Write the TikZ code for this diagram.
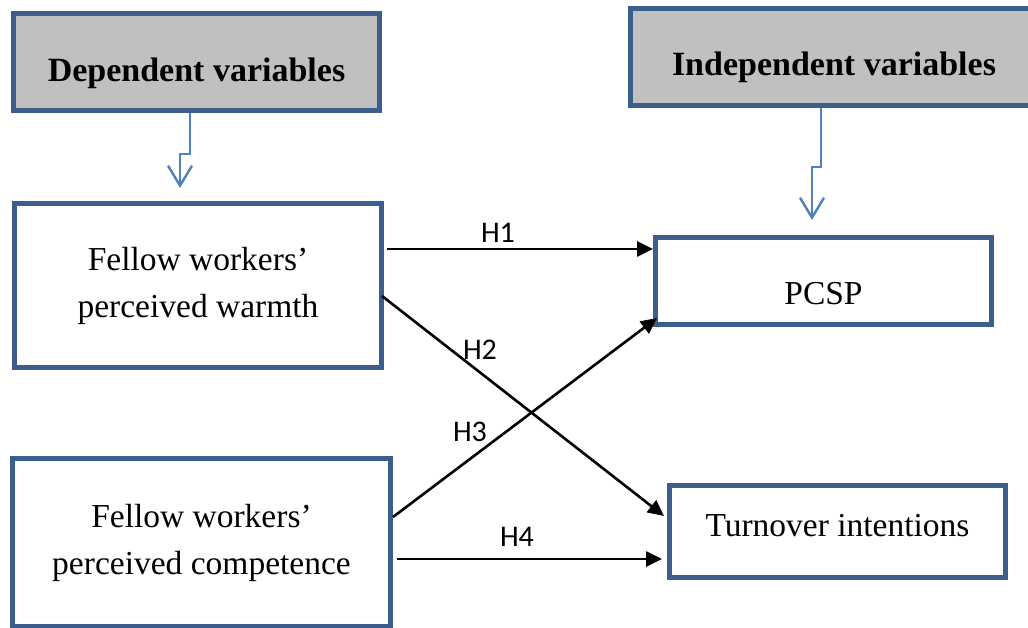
\documentclass[tikz,border=0pt]{standalone}
\usepackage{fontspec}
\setmainfont{Liberation Serif}
\newfontfamily\hypfont{Carlito}
\usetikzlibrary{arrows.meta}
\definecolor{boxblue}{HTML}{3B5E8C}
\definecolor{feedblue}{HTML}{4F81BD}
\definecolor{headgray}{HTML}{C0C0C0}

\begin{document}
\begin{tikzpicture}[x=1pt,y=-1pt,
	varbox/.style={draw=boxblue, line width=5pt, rectangle, inner sep=0pt, align=center,
		font=\fontsize{33.5}{47}\selectfont},
	headbox/.style={varbox, fill=headgray, font=\fontsize{34}{40}\selectfont\bfseries},
	hyp/.style={-{Triangle[length=16pt,width=15pt]}, line width=2.6pt},
	feed/.style={-{Straight Barb[length=20pt,width=24pt]}, draw=feedblue, line width=2.4pt},
	hlab/.style={font=\hypfont\fontsize{30}{32}\selectfont}]
	\useasboundingbox (0,0) rectangle (1028,628);

	% headers
	\node[headbox, minimum width=366, minimum height=97, text height=40pt, text depth=0.6pt] (dep) at (196.5,62) {Dependent variables};
	\node[headbox, minimum width=407, minimum height=97, text height=38pt, text depth=0pt] (indep) at (834,57) {Independent variables};

	% variables
	\node[varbox, minimum width=367, minimum height=164] (warm) at (198,285.5) {Fellow workers'\\perceived warmth};
	\node[varbox, minimum width=378, minimum height=168] (comp) at (201.5,542.5) {Fellow workers'\\perceived competence};
	\node[varbox, minimum width=336, minimum height=87, text height=48pt, text depth=0pt] (pcsp) at (823.5,281) {PCSP};
	\node[varbox, minimum width=336, minimum height=92, text height=19pt, text depth=10pt] (turn) at (837.5,531.5) {Turnover intentions};

	% feed arrows
	\draw[feed] ([xshift=-6.5pt]dep.south) -- ++(0,41) -- ++(-10,0) -- ++(0,34);
	\draw[feed] ([xshift=-13pt]indep.south) -- ++(0,59) -- ++(-9,0) -- ++(0,53);

	% hypotheses
	\draw[hyp] ([xshift=3pt,yshift=36.5pt]warm.east) -- ([yshift=32pt]pcsp.west);
	\draw[hyp] ([xshift=-2pt,yshift=-10.5pt]warm.east) -- ([xshift=-3pt,yshift=15.5pt]turn.west);
	\draw[hyp] ([yshift=25.5pt]comp.east) -- ([xshift=4pt,yshift=9pt]pcsp.south west);
	\draw[hyp] ([xshift=4pt,yshift=-16.5pt]comp.east) -- ([xshift=-5pt,yshift=-27.5pt]turn.west);

	\node[hlab] (h1) at (498,233) {H1};
	\node[hlab] (h2) at (480,350) {H2};
	\node[hlab] (h3) at (470,432) {H3};
	\node[hlab] (h4) at (517,537) {H4};
\end{tikzpicture}
\end{document}
